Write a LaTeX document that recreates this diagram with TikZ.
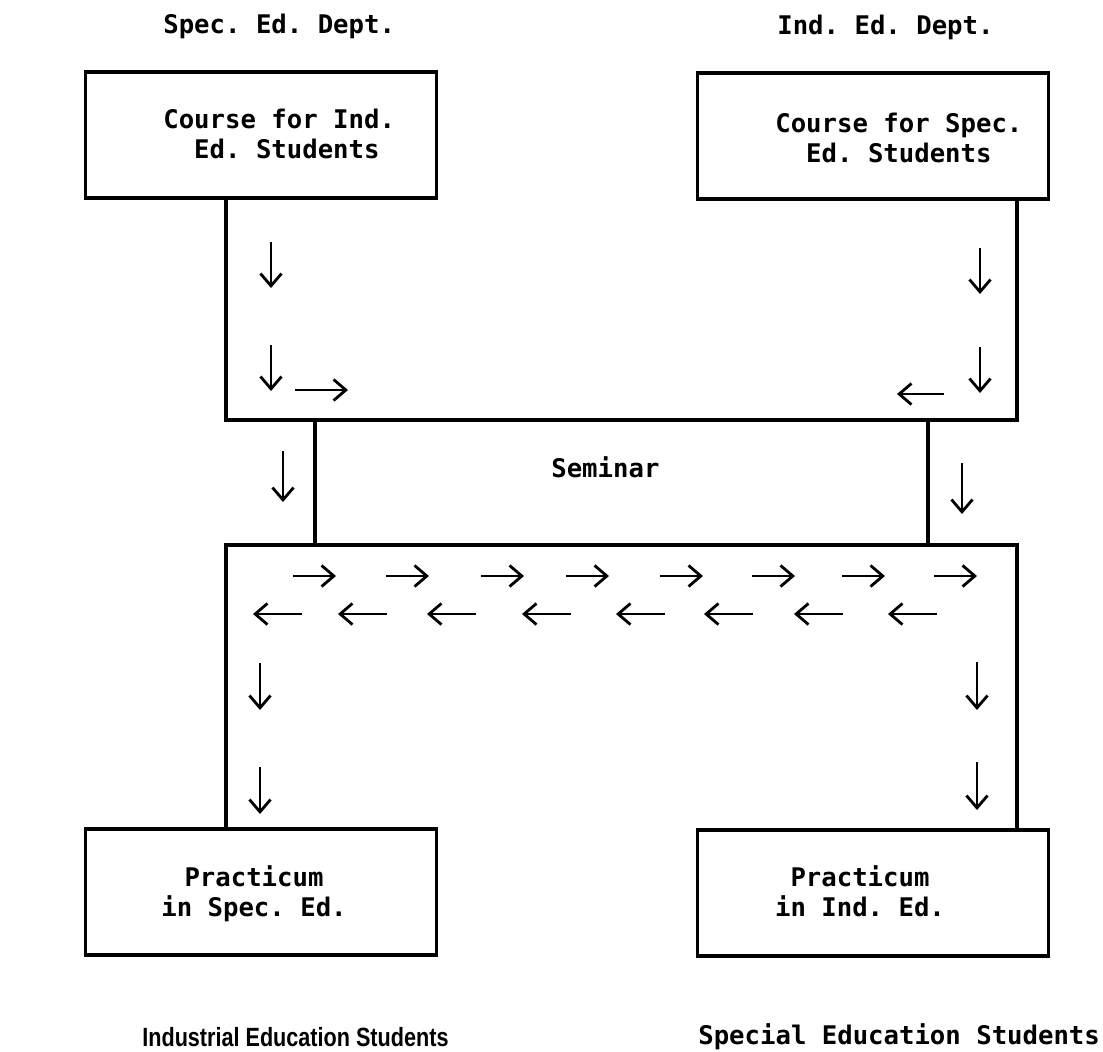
\documentclass[tikz,border=0pt]{standalone}
\usepackage{fontspec}
\setmonofont{DejaVu Sans Mono}
\newfontfamily\narrowsans[FakeStretch=0.82]{Liberation Sans}
\usetikzlibrary{arrows.meta}

\tikzset{
	box/.style={draw, line width=1.8pt, minimum width=7.02cm, minimum height=2.52cm, inner sep=0pt},
	wall/.style={line width=1.8pt},
	flow/.style={-{Straight Barb[length=7pt,width=12pt]}, line width=1.6pt},
	txt/.style={font=\ttfamily\bfseries\fontsize{14.6}{17.07}\selectfont, inner sep=0pt, anchor=base west, align=left},
	ctxt/.style={txt, anchor=base, align=center},
	group/.style={font=\narrowsans\bfseries\fontsize{15}{17}\selectfont, inner sep=0pt, anchor=base west},
}

\begin{document}
\begin{tikzpicture}[x=0.02cm, y=-0.02cm]
			\useasboundingbox (0,0) rectangle (1103,1052);
			\node[txt] (sdept) at (163,33) {Spec. Ed. Dept.};
			\node[txt] (idept) at (777,34) {Ind. Ed. Dept.};
			\node[box] (cind) at (261,135) {};
			\node[box] (cspec) at (873,136) {};
			\node[box] (pspec) at (261,892) {};
			\node[box] (pind) at (873,893) {};
			\node[txt] (cindtxt) at (163,158) {Course for Ind.\\\phantom{Co}Ed. Students};
			\node[txt] (cspectxt) at (775,162) {Course for Spec.\\\phantom{Co}Ed. Students};
			\node[ctxt] (pspectxt) at (254,916) {Practicum\\in Spec. Ed.};
			\node[ctxt] (pindtxt) at (860,916) {Practicum\\in Ind. Ed.};
			\node[txt] (sem) at (551,477) {Seminar};
			\node[group] (istud) at (142,1046) {Industrial Education Students};
			\node[txt] (sstud) at (698,1044) {Special Education Students};
			\coordinate (tl) at (226,420);
			\coordinate (tr) at (1017,420);
			\coordinate (bl) at (226,545);
			\coordinate (br) at (1017,545);
			\draw[wall] (cind.south -| tl) -- (tl) -- (tr) -- (cspec.south -| tr);
			\draw[wall] (pspec.north -| bl) -- (bl) -- (br) -- (pind.north -| br);
			\draw[wall] (tl) ++(89,0) -- ++(0,125);
			\draw[wall] (tr) ++(-89,0) -- ++(0,125);
			\foreach \y in {242,345} { \draw[flow] (271,\y) -- ++(0,46); }
			\foreach \y in {248,347} { \draw[flow] (980,\y) -- ++(0,46); }
			\draw[flow] (295,390) -- (348,390);
			\draw[flow] (944,394) -- (897,394);
			\draw[flow] (283,451) -- (283,502);
			\draw[flow] (962,463) -- (962,514);
			\foreach \x in {293,386,481,566,660,752,842,934} { \draw[flow] (\x,576) -- ++(43,0); }
			\foreach \x in {302,387,476,571,665,753,843,937} { \draw[flow] (\x,614) -- ++(-49,0); }
			\foreach \y in {663,767} { \draw[flow] (260,\y) -- ++(0,47); }
			\foreach \y in {662,762} { \draw[flow] (977,\y) -- ++(0,48); }
		\end{tikzpicture}
\end{document}
